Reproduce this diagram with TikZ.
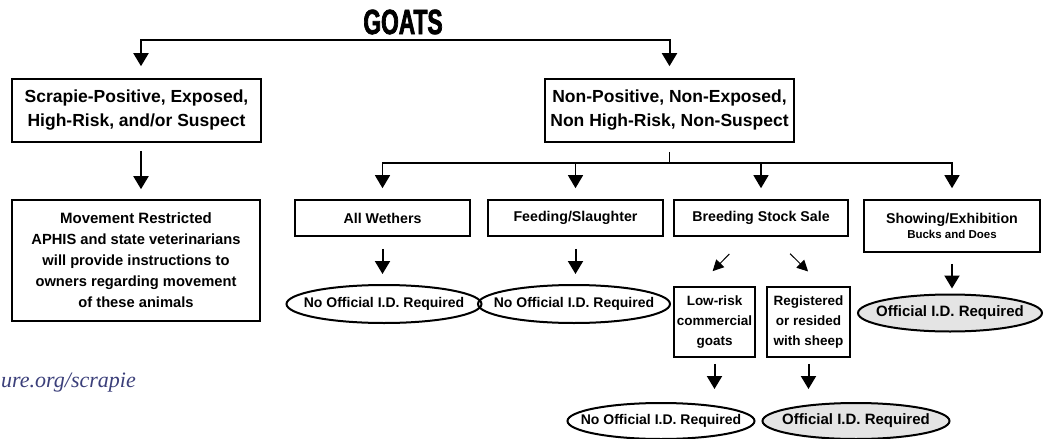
\documentclass[tikz,border=0pt]{standalone}
\usepackage{fontspec}
\setmainfont{Liberation Sans}
\newfontfamily\titlefont[FakeStretch=0.65,FakeBold=2]{Liberation Sans}
\newfontfamily\urlfont{Liberation Serif}
\usetikzlibrary{arrows.meta,shapes.geometric,calc}
\definecolor{urlblue}{HTML}{3B3F7A}
\definecolor{idfill}{HTML}{E4E4E4}
\tikzset{
  box/.style={draw, line width=1.6pt, align=center, inner sep=0pt, font=\bfseries},
  bigbox/.style={box, minimum width=249pt, minimum height=63pt, font={\fontsize{17.5}{24}\selectfont\bfseries}},
  catbox/.style={box, minimum width=175pt, minimum height=36pt, font={\fontsize{14.2}{15}\selectfont\bfseries}},
  subbox/.style={box, minimum height=70pt, font={\fontsize{13.5}{20}\selectfont\bfseries}},
  noid/.style={ellipse, draw, line width=2pt, inner xsep=-60pt, inner ysep=-20pt, minimum width=192pt, minimum height=38pt, font={\fontsize{14}{16}\selectfont\bfseries}},
  offid/.style={noid, fill=idfill, font={\fontsize{15}{17}\selectfont\bfseries}},
  arr/.style={-{Triangle[width=15pt,length=13pt]}, line width=2pt},
  thinarr/.style={-{Triangle[width=11pt,length=11pt]}, line width=1pt},
}

\begin{document}
\begin{tikzpicture}[x=1pt, y=-1pt]
  \useasboundingbox (0,0) rectangle (1047,439);
  \node[font={\titlefont\fontsize{35}{35}\selectfont\bfseries}] (title) at (403,22) {GOATS};
  % status boxes
  \node[bigbox] (pos) at (136.5,110.5) {Scrapie-Positive, Exposed,\\High-Risk, and/or Suspect};
  \node[bigbox] (neg) at (669.5,110.5) {Non-Positive, Non-Exposed,\\Non High-Risk, Non-Suspect};
  \node[box, minimum width=248pt, minimum height=121pt, font={\fontsize{14.7}{21}\selectfont\bfseries}] (restr) at (136,260.5)
    {{\fontsize{15}{21}\selectfont Movement Restricted}\\APHIS and state veterinarians\\will provide instructions to\\owners regarding movement\\of these animals};
  % categories under the non-positive box
  \node[catbox] (wethers) at (382.5,218) {All Wethers};
  \node[catbox] (feed) at (575.5,218) {Feeding/Slaughter};
  \node[catbox, minimum width=174pt] (breed) at (761,218) {Breeding Stock Sale};
  \node[catbox, minimum width=176pt, minimum height=52pt] (show) at (952,226)
    {Showing/Exhibition\\{\fontsize{11.5}{13}\selectfont Bucks and Does}};
  \node[subbox, minimum width=81pt] (lowrisk) at (714.5,322) {Low-risk\\commercial\\goats};
  \node[subbox, minimum width=83pt] (reg) at (808.5,322) {Registered\\or resided\\with sheep};
  % outcomes
  \node[noid, minimum width=195pt] (wethersid) at (384,304) {No Official I.D. Required};
  \node[noid] (feedid) at (574,304) {No Official I.D. Required};
  \node[offid, minimum width=184pt, minimum height=37pt] (showid) at (950,313) {Official I.D. Required};
  \node[noid, minimum width=187pt, minimum height=36pt] (lowriskid) at (661,421) {No Official I.D. Required};
  \node[offid, minimum width=187pt, minimum height=36pt] (regid) at (856,421) {Official I.D. Required};
  \node[font={\urlfont\fontsize{22}{22}\selectfont\itshape}, text=urlblue, anchor=base west, inner sep=0pt] (url) at (1,387) {ure.org/scrapie};
  % connectors
  \coordinate (split) at (403,40);
  \coordinate (fork) at (669.5,163);
  \draw[arr, shorten >=12pt] (split) -| ([xshift=4.5pt]pos.north);
  \draw[arr, shorten >=12pt] (split) -| (neg.north);
  \draw[arr, shorten <=8pt, shorten >=10pt] ([xshift=4.5pt]pos.south) -- ([xshift=4.5pt]pos.south |- restr.north);
  \draw[line width=1.3pt, shorten <=9pt] (neg.south) -- (fork);
  \foreach \n in {wethers,feed,breed,show}
    \draw[arr, line width=1.3pt, shorten >=11pt] (fork) -| (\n.north);
  \draw[arr, shorten <=12pt, shorten >=10pt] (wethers.south) -- (wethers.south |- wethersid.north);
  \draw[arr, shorten <=12pt, shorten >=10pt] (feed.south) -- (feed.south |- feedid.north);
  \draw[arr, shorten <=11pt, shorten >=5pt] (show.south) -- (show.south |- showid.north);
  \draw[thinarr, shorten <=24pt, shorten >=21pt] ([xshift=-15pt]breed.south) -- ([xshift=-16.5pt]lowrisk.north);
  \draw[thinarr, shorten <=24pt, shorten >=21pt] ([xshift=12pt]breed.south) -- ([xshift=14.5pt]reg.north);
  \draw[arr, shorten <=6pt, shorten >=13pt] (lowrisk.south) -- (lowrisk.south |- lowriskid.north);
  \draw[arr, shorten <=6pt, shorten >=13pt] (reg.south) -- (reg.south |- regid.north);
\end{tikzpicture}
\end{document}
